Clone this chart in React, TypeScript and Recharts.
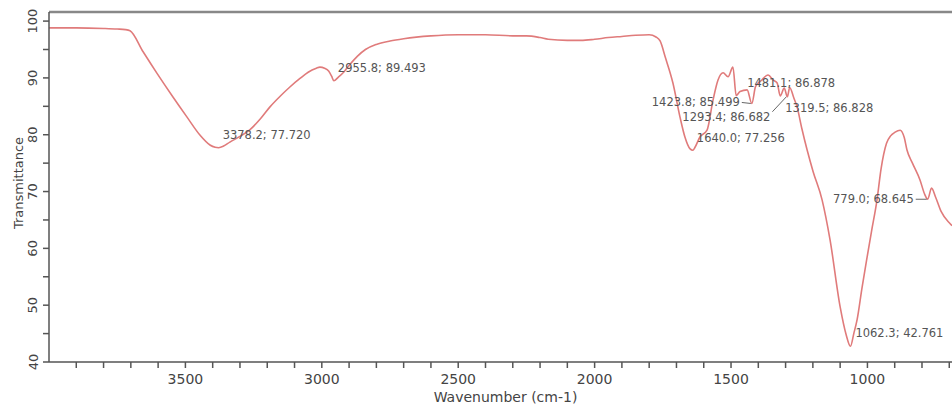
import React from "react";
import {
  ComposedChart,
  Line,
  Scatter,
  XAxis,
  YAxis,
  ReferenceLine,
} from "recharts";

// FTIR spectrum
const wavenumber = [
  4000, 3900, 3800, 3750, 3720, 3703, 3655, 3604, 3545, 3494, 3446, 3410,
  3391, 3378.2, 3360, 3337, 3300, 3263, 3225, 3190, 3150, 3117, 3080, 3050,
  3020, 3007, 2990, 2975, 2964, 2955.8, 2940, 2920, 2900, 2870, 2840, 2800, 2750,
  2700, 2600, 2500, 2400, 2300, 2250, 2200, 2170, 2100, 2050, 2000, 1950, 1900,
  1850, 1800, 1775, 1760, 1740, 1713, 1687, 1669, 1650, 1640, 1632, 1614, 1588,
  1566, 1548, 1529, 1511, 1493, 1481.1, 1467, 1441, 1423.8, 1410, 1390, 1364,
  1345, 1331, 1319.5, 1305, 1293.4, 1285, 1270, 1258, 1240, 1221, 1199, 1166,
  1137, 1100, 1078, 1062.3, 1050, 1038, 1020, 1001, 985, 965, 950, 930, 915, 900,
  880, 865, 855, 835, 807, 790, 779, 765, 750, 730, 700, 690,
];
const transmittance = [
  98.8, 98.8, 98.7, 98.6, 98.5, 98.3, 94.6, 90.8, 86.6, 83.1, 79.9, 78.2,
  77.8, 77.72, 78.0, 78.7, 79.7, 80.9, 82.8, 84.9, 86.9, 88.4, 89.9, 91.0,
  91.7, 91.9, 91.7, 91.2, 90.3, 89.49, 90.1, 91.0, 92.2, 93.8, 95.0, 95.9, 96.5,
  96.9, 97.4, 97.6, 97.6, 97.4, 97.4, 97.1, 96.8, 96.6, 96.6, 96.8, 97.1, 97.3,
  97.5, 97.6, 97.2, 96.5, 93.5, 89.1, 83.1, 79.6, 77.5, 77.26, 77.8, 79.6, 80.8,
  86.1, 89.6, 90.9, 90.2, 91.9, 86.88, 87.6, 87.9, 85.5, 88.5, 89.5, 90.5, 89.6,
  89.1, 86.83, 88.2, 86.68, 88.3, 86.5, 84.9, 81.0, 77.3, 73.5, 68.5, 61.5, 49.7,
  44.8, 42.76, 45.0, 47.4, 53.0, 58.5, 63.0, 68.5, 74.0, 78.5, 79.8, 80.4, 80.8,
  79.5, 77.3, 75.0, 72.0, 69.5, 68.65, 70.6, 69.0, 66.5, 64.5, 64.0,
];

// labelled peaks
const peakWn = [3378.2, 2955.8, 1640.0, 1481.1, 1423.8, 1293.4, 1319.5, 1062.3, 779.0];
const peakT = [77.72, 89.493, 77.256, 86.878, 85.499, 86.682, 86.828, 42.761, 68.645];

// where each peak label sits relative to its point (px)
const peakLayout = [
  { dx: 4, dy: -13, anchor: "start", leader: false },
  { dx: 4, dy: -13, anchor: "start", leader: false },
  { dx: 4, dy: -12, anchor: "start", leader: false },
  { dx: 11, dy: -13, anchor: "start", leader: false },
  { dx: -12, dy: -1, anchor: "end", leader: true },
  { dx: -17, dy: 20, anchor: "end", leader: true },
  { dx: 5, dy: 12, anchor: "start", leader: false },
  { dx: 5, dy: -13, anchor: "start", leader: false },
  { dx: -14, dy: 0, anchor: "end", leader: true },
];

const xTicks = [
  700, 800, 900, 1000, 1100, 1200, 1300, 1400, 1500, 1600, 1700, 1800, 1900,
  2000, 2100, 2200, 2300, 2400, 2500, 2600, 2700, 2800, 2900, 3000, 3100, 3200,
  3300, 3400, 3500, 3600, 3700, 3800, 3900,
];
const yTicks = [40, 45, 50, 55, 60, 65, 70, 75, 80, 85, 90, 95, 100];

const spectrum = wavenumber.map((wn, i) => ({ wn, t: transmittance[i] }));
const peaks = peakWn.map((wn, i) => ({
  wn,
  t: peakT[i],
  text: `${wn.toFixed(1)}; ${peakT[i].toFixed(3)}`,
  i,
}));

const FONT = "'DejaVu Sans', Verdana, sans-serif";
const AXIS = "#555";

const XTick = ({ x, y, payload }: any) => {
  if (payload.value % 500 !== 0) return <g />;
  return (
    <text x={x} y={y + 14} textAnchor="middle" fontSize={14} fontFamily={FONT} fill="#444">
      {payload.value}
    </text>
  );
};

const YTick = ({ x, y, payload }: any) => {
  if (payload.value % 10 !== 0) return <g />;
  const cx = x - 8;
  return (
    <text
      x={cx}
      y={y}
      transform={`rotate(-90 ${cx} ${y})`}
      textAnchor="middle"
      dominantBaseline="central"
      fontSize={13}
      fontFamily={FONT}
      fill="#444"
    >
      {payload.value}
    </text>
  );
};

const PeakMark = ({ cx, cy, payload }: any) => {
  const p = peakLayout[payload.i];
  const tx = cx + p.dx;
  const ty = cy + p.dy;
  let leader = null;
  if (p.leader) {
    const lx = p.anchor === "end" ? tx + 2 : tx - 2;
    leader = <line x1={lx} y1={ty - (p.dy > 5 ? 5 : 0)} x2={cx - 1} y2={cy} stroke="#666" strokeWidth={1} />;
  }
  return (
    <g>
      {leader}
      <text
        x={tx}
        y={ty}
        textAnchor={p.anchor}
        dominantBaseline="central"
        fontSize={11.5}
        fontFamily={FONT}
        fill="#555"
      >
        {payload.text}
      </text>
    </g>
  );
};

export default function App() {
  return (
    <div style={{ position: "fixed", left: 0, top: 0, background: "#fff" }}>
      <ComposedChart
        width={952}
        height={404}
        margin={{ top: 12, right: 0, bottom: 0, left: 0 }}
      >
        <XAxis
          type="number"
          dataKey="wn"
          domain={[690, 4000]}
          reversed
          allowDataOverflow
          ticks={xTicks}
          interval={0}
          tick={XTick}
          tickSize={6}
          height={42}
          stroke={AXIS}
          axisLine={{ stroke: AXIS, strokeWidth: 1.5 }}
          tickLine={{ stroke: AXIS, strokeWidth: 1.5 }}
          label={{
            content: ({ viewBox }: any) => (
              <text
                x={viewBox.x + viewBox.width / 2 + 5}
                y={viewBox.y + 40}
                textAnchor="middle"
                fontSize={14}
                fontFamily={FONT}
                fill="#444"
              >
                Wavenumber (cm-1)
              </text>
            ),
          }}
        />
        <YAxis
          type="number"
          dataKey="t"
          domain={[40, 101.6]}
          allowDataOverflow
          ticks={yTicks}
          interval={0}
          tick={YTick}
          tickSize={6}
          width={49}
          axisLine={{ stroke: AXIS, strokeWidth: 1.5 }}
          tickLine={{ stroke: AXIS, strokeWidth: 1.5 }}
          label={{
            content: ({ viewBox }: any) => {
              const x = 18;
              const y = viewBox.y + viewBox.height / 2 - 4;
              return (
                <text
                  x={x}
                  y={y}
                  transform={`rotate(-90 ${x} ${y})`}
                  textAnchor="middle"
                  dominantBaseline="central"
                  fontSize={13}
                  fontFamily={FONT}
                  fill="#444"
                >
                  Transmittance
                </text>
              );
            },
          }}
        />
        <ReferenceLine y={101.6} stroke="#888" strokeWidth={2.5} />
        <Line
          data={spectrum}
          dataKey="t"
          type="monotone"
          stroke="#e07b7b"
          strokeWidth={1.6}
          dot={false}
          activeDot={false}
          isAnimationActive={false}
        />
        <Scatter data={peaks} dataKey="t" shape={PeakMark} isAnimationActive={false} />
      </ComposedChart>
    </div>
  );
}
